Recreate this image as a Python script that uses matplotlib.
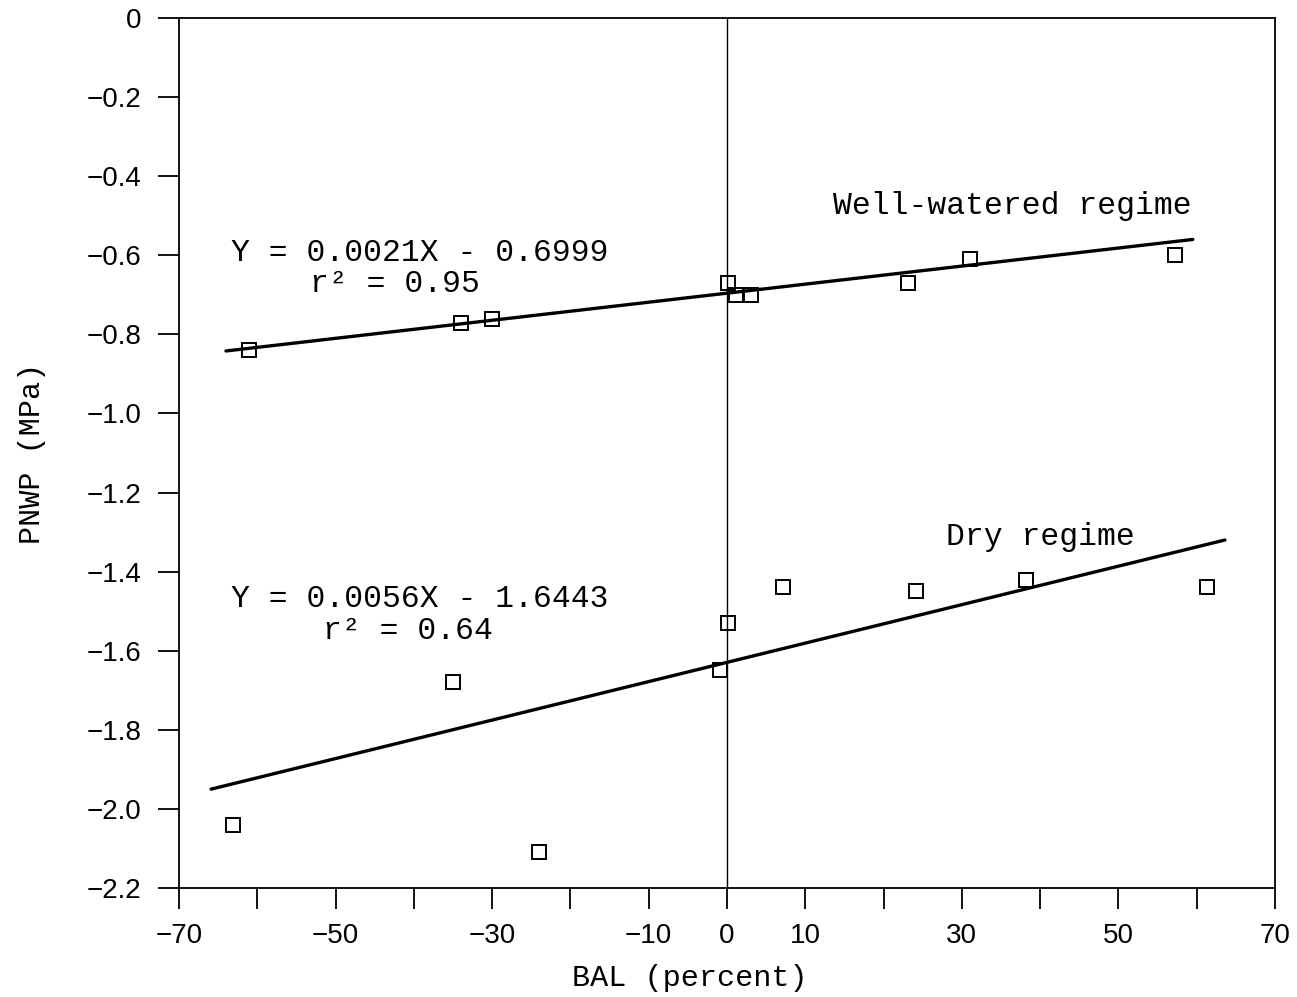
import matplotlib
matplotlib.use("Agg")
import matplotlib.pyplot as plt

# Data
well_x = [-61.0, -34.0, -30.0, 0.1, 1.1, 3.1, 23.1, 31.0, 57.2]
well_y = [-0.84, -0.77, -0.76, -0.67, -0.70, -0.70, -0.67, -0.61, -0.60]
dry_x = [-63.1, -35.0, -24.0, -0.9, 0.1, 7.2, 24.1, 38.2, 61.3]
dry_y = [-2.04, -1.68, -2.11, -1.65, -1.53, -1.44, -1.45, -1.42, -1.44]

well_fit_x = [-64.0, 59.5]
well_fit_y = [-0.842, -0.560]
dry_fit_x = [-65.9, 63.6]
dry_fit_y = [-1.95, -1.32]

xticks = list(range(-70, 71, 10))
xticklabels = ["-70", "", "-50", "", "-30", "", "-10", "0", "10", "", "30", "", "50", "", "70"]
yticks = [0, -0.2, -0.4, -0.6, -0.8, -1.0, -1.2, -1.4, -1.6, -1.8, -2.0, -2.2]
yticklabels = ["0", "\u22120.2", "\u22120.4", "\u22120.6", "\u22120.8", "\u22121.0",
               "\u22121.2", "\u22121.4", "\u22121.6", "\u22121.8", "\u22122.0", "\u22122.2"]

mono = "Liberation Mono"
sans = "Liberation Sans"

fig = plt.figure(figsize=(12.97, 9.97), dpi=100)
ax = fig.add_axes([179/1297, 1 - 888/997, (1275-179)/1297, (888-18)/997])

ax.set_xlim(-70, 70)
ax.set_ylim(-2.2, 0)

ax.axvline(0, color="black", lw=1.0)

ax.plot(well_fit_x, well_fit_y, color="black", lw=2.4, solid_capstyle="round")
ax.plot(dry_fit_x, dry_fit_y, color="black", lw=2.4, solid_capstyle="round")

ax.plot(well_x, well_y, ls="none", marker="s", ms=10.5, mfc="none", mec="black", mew=1.4)
ax.plot(dry_x, dry_y, ls="none", marker="s", ms=10.5, mfc="none", mec="black", mew=1.4)

ax.set_xticks(xticks)
ax.set_xticklabels([l.replace("-", "\u2212") for l in xticklabels], fontfamily=sans, fontsize=20)
ax.set_yticks(yticks)
ax.set_yticklabels(yticklabels, fontfamily=sans, fontsize=20)

ax.tick_params(axis="both", direction="out", length=15, width=1.3, color="black")
ax.tick_params(axis="x", pad=10)
ax.tick_params(axis="y", pad=12)

for s in ax.spines.values():
    s.set_linewidth(1.3)

ax.set_xlabel("BAL (percent)", fontfamily=mono, fontsize=21.7)
ax.xaxis.set_label_coords((690 - 179) / 1096, (888 - 978) / 870)
ax.set_ylabel("PNWP (MPa)", fontfamily=mono, fontsize=21.7)
ax.yaxis.set_label_coords((32 - 179) / 1096, 0.5)
ax.xaxis.label.set_va("center")
ax.yaxis.label.set_va("center")

fs = 22.6
ax.text(-63.3, -0.594, "Y = 0.0021X - 0.6999", fontfamily=mono, fontsize=fs,
        ha="left", va="center")
ax.text(-53.3, -0.673, "r\u00b2 = 0.95", fontfamily=mono, fontsize=fs,
        ha="left", va="center")
ax.text(13.5, -0.475, "Well-watered regime", fontfamily=mono, fontsize=fs,
        ha="left", va="center")

ax.text(-63.3, -1.469, "Y = 0.0056X - 1.6443", fontfamily=mono, fontsize=fs,
        ha="left", va="center")
ax.text(-51.6, -1.55, "r\u00b2 = 0.64", fontfamily=mono, fontsize=fs,
        ha="left", va="center")
ax.text(28.0, -1.312, "Dry regime", fontfamily=mono, fontsize=fs,
        ha="left", va="center")

fig.savefig("out.png", dpi=100, facecolor="white")
